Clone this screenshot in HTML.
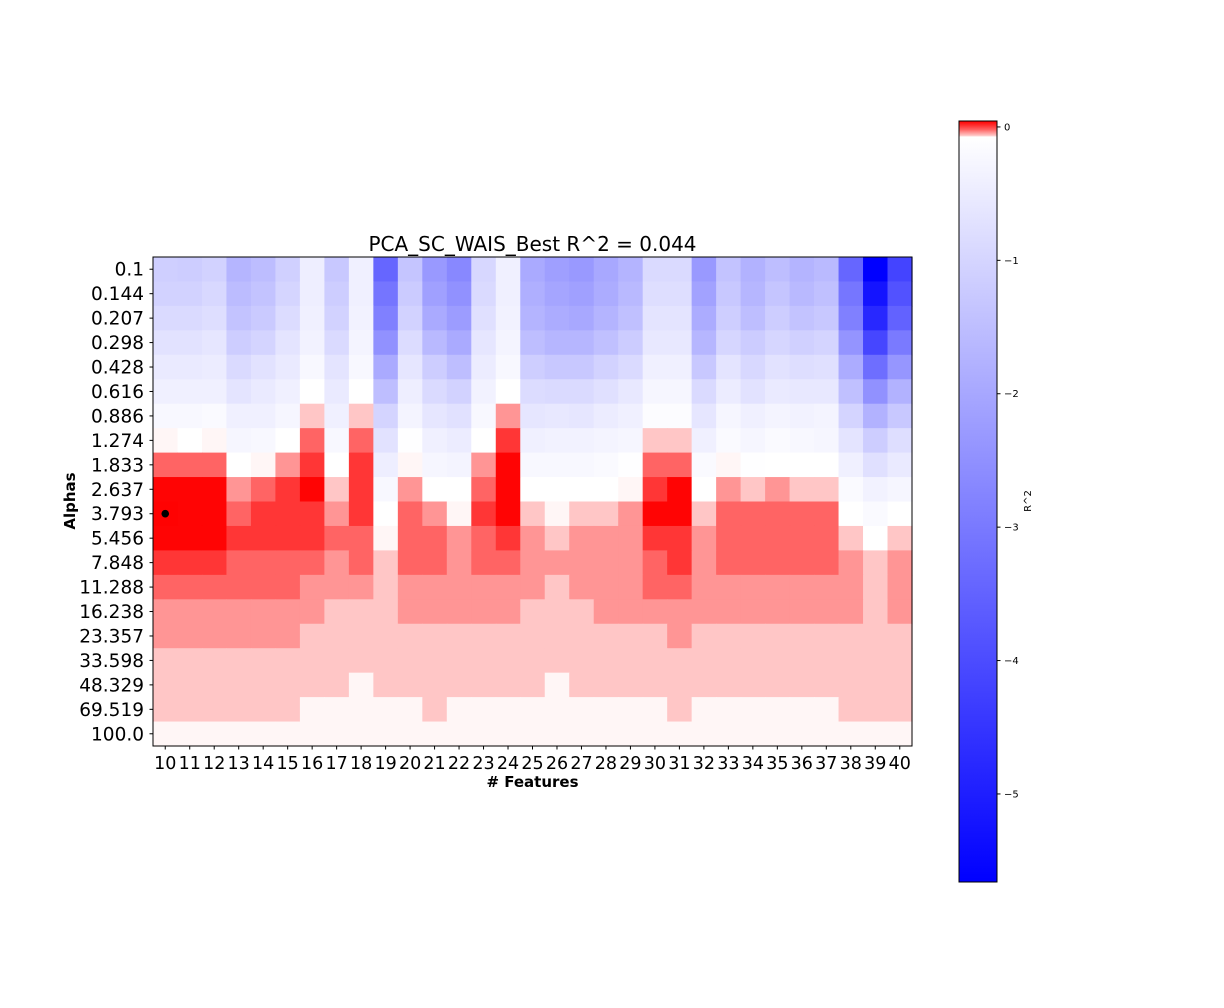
<!DOCTYPE html>
<html><head><meta charset="utf-8"><style>
html,body{margin:0;padding:0;background:#fff;}
svg{display:block;font-family:"DejaVu Sans","Liberation Sans",sans-serif;}
</style></head><body>
<svg id="chart" width="1224" height="1008" viewBox="0 0 1224 1008" xmlns="http://www.w3.org/2000/svg">
<defs>
<linearGradient id="cbgrad" x1="0" y1="0" x2="0" y2="1">
<stop offset="0" stop-color="#ff0000"/>
<stop offset="0.006" stop-color="#ff3232"/>
<stop offset="0.011" stop-color="#ff6060"/>
<stop offset="0.015" stop-color="#ff9494"/>
<stop offset="0.019" stop-color="#ffc4c4"/>
<stop offset="0.021" stop-color="#ffffff"/>
<stop offset="1" stop-color="#0000ff"/>
</linearGradient>
</defs>
<text x="532.5" y="251" text-anchor="middle" font-size="20">PCA_SC_WAIS_Best R^2 = 0.044</text>
<g id="cells"></g>
<rect x="153" y="257" width="759" height="489" fill="none" stroke="#000" stroke-width="1"/>
<g id="yticks"></g>
<g id="xticks"></g>
<text x="532.5" y="787" text-anchor="middle" font-size="15" font-weight="bold"># Features</text>
<text transform="translate(75,501) rotate(-90)" text-anchor="middle" font-size="15" font-weight="bold">Alphas</text>
<rect x="959" y="121" width="38" height="761" fill="url(#cbgrad)" stroke="#000" stroke-width="1"/>
<g id="cbticks"></g>
<text transform="translate(1031,501) rotate(-90)" text-anchor="middle" font-size="10">R^2</text>
</svg>
<script>
const features = [10,11,12,13,14,15,16,17,18,19,20,21,22,23,24,25,26,27,28,29,30,31,32,33,34,35,36,37,38,39,40];
const alphas = ["0.1","0.144","0.207","0.298","0.428","0.616","0.886","1.274","1.833","2.637","3.793","5.456","7.848","11.288","16.238","23.357","33.598","48.329","69.519","100.0"];
const r0 = [-1.07,-1.11,-1.00,-1.64,-1.47,-1.04,-0.38,-1.22,-0.33,-3.40,-1.29,-2.26,-2.64,-0.89,-0.33,-1.89,-2.13,-2.26,-1.93,-1.67,-0.82,-0.82,-2.26,-1.33,-1.71,-1.44,-1.67,-1.53,-3.40,-5.66,-4.15];
const r1 = [-1.00,-1.00,-0.87,-1.49,-1.33,-0.93,-0.38,-1.11,-0.33,-3.06,-1.15,-2.11,-2.44,-0.82,-0.33,-1.78,-2.00,-2.11,-1.84,-1.55,-0.73,-0.73,-2.06,-1.22,-1.62,-1.29,-1.55,-1.40,-3.04,-5.22,-3.84];
const r2 = [-0.82,-0.82,-0.73,-1.33,-1.18,-0.78,-0.33,-1.00,-0.29,-2.82,-1.00,-1.89,-2.20,-0.69,-0.29,-1.67,-1.84,-1.93,-1.67,-1.40,-0.60,-0.60,-1.84,-1.09,-1.44,-1.11,-1.33,-1.22,-2.82,-4.77,-3.49];
const r3 = [-0.64,-0.64,-0.55,-1.11,-0.95,-0.60,-0.29,-0.82,-0.24,-2.44,-0.78,-1.55,-1.89,-0.55,-0.24,-1.44,-1.62,-1.62,-1.40,-1.13,-0.51,-0.51,-1.62,-0.91,-1.13,-0.91,-1.04,-0.95,-2.38,-4.11,-2.95];
const r4 = [-0.47,-0.47,-0.42,-0.82,-0.64,-0.47,-0.16,-0.60,-0.16,-1.89,-0.55,-1.11,-1.44,-0.42,-0.16,-1.09,-1.22,-1.22,-1.00,-0.82,-0.33,-0.33,-1.22,-0.60,-0.87,-0.64,-0.73,-0.69,-1.84,-3.22,-2.33];
const r5 = [-0.33,-0.33,-0.33,-0.60,-0.47,-0.33,0,-0.47,0,-1.44,-0.38,-0.82,-1.00,-0.29,0,-0.78,-0.82,-0.82,-0.69,-0.51,-0.20,-0.20,-0.82,-0.42,-0.64,-0.47,-0.51,-0.51,-1.40,-2.44,-1.71];
const r6 = [-0.16,-0.16,-0.11,-0.33,-0.33,-0.20,0.01,-0.33,0.01,-0.95,-0.24,-0.55,-0.67,-0.16,0.0185,-0.55,-0.51,-0.55,-0.42,-0.33,-0.07,-0.07,-0.55,-0.20,-0.33,-0.24,-0.29,-0.24,-0.95,-1.71,-1.22];
const r7 = [0.0015,0,0.0015,-0.20,-0.16,0,0.027,-0.16,0.027,-0.64,-0.02,-0.33,-0.42,0,0.035,-0.33,-0.29,-0.29,-0.24,-0.20,0.01,0.01,-0.33,-0.11,-0.20,-0.11,-0.16,-0.20,-0.60,-1.11,-0.73];
const r8 = [0.027,0.027,0.027,0,0.0015,0.0185,0.035,0,0.035,-0.38,0.0015,-0.20,-0.24,0.0185,0.0438,-0.16,-0.16,-0.16,-0.11,-0.02,0.027,0.027,-0.11,0.0015,-0.02,0,0,0,-0.33,-0.69,-0.47];
const r9 = [0.0438,0.0438,0.0438,0.0185,0.027,0.035,0.0438,0.01,0.035,-0.16,0.0185,0,0,0.027,0.0438,0,0,0,0,0.0015,0.035,0.0438,0,0.0185,0.01,0.0185,0.01,0.01,-0.11,-0.29,-0.20];
const r10 = [0.0442,0.0438,0.0438,0.027,0.035,0.035,0.035,0.0185,0.035,0,0.027,0.0185,0.0015,0.035,0.0438,0.01,0.0015,0.01,0.01,0.0185,0.0438,0.0438,0.01,0.027,0.027,0.027,0.027,0.027,0,-0.11,0];
const r11 = [0.0438,0.0438,0.0438,0.035,0.035,0.035,0.035,0.027,0.027,0.0015,0.027,0.027,0.0185,0.027,0.035,0.0185,0.01,0.0185,0.0185,0.0185,0.035,0.035,0.0185,0.027,0.027,0.027,0.027,0.027,0.01,0,0.01];
const r12 = [0.035,0.035,0.035,0.027,0.027,0.027,0.027,0.0185,0.027,0.01,0.027,0.027,0.0185,0.027,0.027,0.0185,0.0185,0.0185,0.0185,0.0185,0.027,0.035,0.0185,0.027,0.027,0.027,0.027,0.027,0.0185,0.01,0.0185];
const r13 = [0.027,0.027,0.027,0.027,0.027,0.027,0.0185,0.0185,0.0185,0.01,0.0185,0.0185,0.0185,0.0185,0.0185,0.0185,0.01,0.0185,0.0185,0.0185,0.027,0.027,0.0185,0.0185,0.0185,0.0185,0.0185,0.0185,0.0185,0.01,0.0185];
const r14 = [0.0185,0.0185,0.0185,0.0185,0.0185,0.0185,0.0185,0.01,0.01,0.01,0.0185,0.0185,0.0185,0.0185,0.0185,0.01,0.01,0.01,0.0185,0.0185,0.0185,0.0185,0.0185,0.0185,0.0185,0.0185,0.0185,0.0185,0.0185,0.01,0.0185];
const r15 = [0.0185,0.0185,0.0185,0.0185,0.0185,0.0185,0.01,0.01,0.01,0.01,0.01,0.01,0.01,0.01,0.01,0.01,0.01,0.01,0.01,0.01,0.01,0.0185,0.01,0.01,0.01,0.01,0.01,0.01,0.01,0.01,0.01];
const r16 = [0.01,0.01,0.01,0.01,0.01,0.01,0.01,0.01,0.01,0.01,0.01,0.01,0.01,0.01,0.01,0.01,0.01,0.01,0.01,0.01,0.01,0.01,0.01,0.01,0.01,0.01,0.01,0.01,0.01,0.01,0.01];
const r17 = [0.01,0.01,0.01,0.01,0.01,0.01,0.01,0.01,0.0015,0.01,0.01,0.01,0.01,0.01,0.01,0.01,0.0015,0.01,0.01,0.01,0.01,0.01,0.01,0.01,0.01,0.01,0.01,0.01,0.01,0.01,0.01];
const r18 = [0.01,0.01,0.01,0.01,0.01,0.01,0.0015,0.0015,0.0015,0.0015,0.0015,0.01,0.0015,0.0015,0.0015,0.0015,0.0015,0.0015,0.0015,0.0015,0.0015,0.01,0.0015,0.0015,0.0015,0.0015,0.0015,0.0015,0.01,0.01,0.01];
const r19 = [0.0015,0.0015,0.0015,0.0015,0.0015,0.0015,0.0015,0.0015,0.0015,0.0015,0.0015,0.0015,0.0015,0.0015,0.0015,0.0015,0.0015,0.0015,0.0015,0.0015,0.0015,0.0015,0.0015,0.0015,0.0015,0.0015,0.0015,0.0015,0.0015,0.0015,0.0015];
const cbTicks = [0,-1,-2,-3,-4,-5];
const cbTickLabels = ["0","\u22121","\u22122","\u22123","\u22124","\u22125"];
const vmin = -5.66, vmax = 0.0445;

const rows = [r0,r1,r2,r3,r4,r5,r6,r7,r8,r9,r10,r11,r12,r13,r14,r15,r16,r17,r18,r19];
const NS = "http://www.w3.org/2000/svg";
const PL = 153, PT = 257, PW = 759, PH = 489;
const cw = PW / features.length, ch = PH / alphas.length;
const xCell = i => PL + i * cw;
const yCell = j => PT + j * ch;
function color(v){
  let r,g,b;
  if (v >= 0){ const f = Math.max(0, 1 - v / vmax); r = 255; g = b = Math.round(255 * f); }
  else { const f = Math.max(0, 1 - v / vmin); r = g = Math.round(255 * f); b = 255; }
  return `rgb(${r},${g},${b})`;
}
const cells = document.getElementById('cells');
let best = -Infinity, bi = 0, bj = 0;
rows.forEach((row, j) => {
  row.forEach((v, i) => {
    const rc = document.createElementNS(NS, 'rect');
    rc.setAttribute('x', xCell(i)); rc.setAttribute('y', yCell(j));
    rc.setAttribute('width', cw + 0.6); rc.setAttribute('height', ch + 0.6);
    rc.setAttribute('fill', color(v));
    
    
    cells.appendChild(rc);
    if (v > best){ best = v; bi = i; bj = j; }
  });
});
const dot = document.createElementNS(NS, 'circle');
dot.setAttribute('cx', xCell(bi) + cw / 2); dot.setAttribute('cy', yCell(bj) + ch / 2);
dot.setAttribute('r', 3.8); dot.setAttribute('fill', '#000');


cells.appendChild(dot);

const yt = document.getElementById('yticks');
alphas.forEach((a, j) => {
  const y = yCell(j) + ch / 2;
  const ln = document.createElementNS(NS, 'line');
  ln.setAttribute('x1', PL - 3.5); ln.setAttribute('x2', PL); ln.setAttribute('y1', y); ln.setAttribute('y2', y);
  ln.setAttribute('stroke', '#000');
  
  
  yt.appendChild(ln);
  const t = document.createElementNS(NS, 'text');
  t.setAttribute('x', PL - 9); t.setAttribute('y', y + 6.5);
  t.setAttribute('text-anchor', 'end'); t.setAttribute('font-size', '18.5');
  t.textContent = a;
  
  
  yt.appendChild(t);
});
const xt = document.getElementById('xticks');
features.forEach((f, i) => {
  const x = xCell(i) + cw / 2;
  const ln = document.createElementNS(NS, 'line');
  ln.setAttribute('x1', x); ln.setAttribute('x2', x); ln.setAttribute('y1', PT + PH); ln.setAttribute('y2', PT + PH + 3.5);
  ln.setAttribute('stroke', '#000');
  
  
  xt.appendChild(ln);
  const t = document.createElementNS(NS, 'text');
  t.setAttribute('x', x); t.setAttribute('y', PT + PH + 23);
  t.setAttribute('text-anchor', 'middle'); t.setAttribute('font-size', '17.5');
  t.textContent = f;
  
  
  xt.appendChild(t);
});
const cbt = document.getElementById('cbticks');
const CT = 121, CB = 882;
const yCb = v => CT + (vmax - v) / (vmax - vmin) * (CB - CT);
cbTicks.forEach((v, k) => {
  const y = yCb(v);
  const ln = document.createElementNS(NS, 'line');
  ln.setAttribute('x1', 997); ln.setAttribute('x2', 1000.5); ln.setAttribute('y1', y); ln.setAttribute('y2', y);
  ln.setAttribute('stroke', '#000');
  
  
  cbt.appendChild(ln);
  const t = document.createElementNS(NS, 'text');
  t.setAttribute('x', 1004); t.setAttribute('y', y + 3.5);
  t.setAttribute('font-size', '10');
  t.textContent = cbTickLabels[k];
  
  
  cbt.appendChild(t);
});
</script>
</body></html>
